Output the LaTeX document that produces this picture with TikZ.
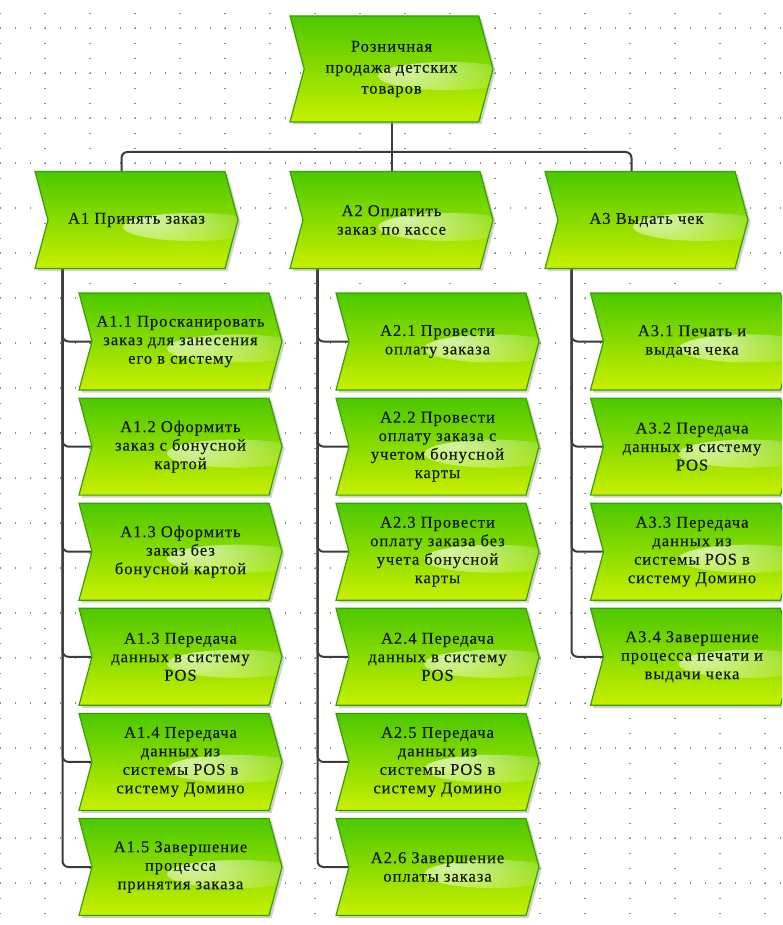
\documentclass[tikz,border=0pt]{standalone}
\usepackage{fontspec}
\setmainfont{Liberation Serif}[LetterSpace=6, FakeBold=0.35]
\usetikzlibrary{shapes.symbols,shadows,fadings,backgrounds}

\definecolor{lineGray}{HTML}{3C3C3C}
\definecolor{gTop}{HTML}{4CC800}
\definecolor{gBot}{HTML}{C8F000}
\definecolor{gEdge}{HTML}{38A000}
\definecolor{dotGray}{HTML}{8C8C8C}
\definecolor{txt}{HTML}{101A00}

\tikzfading[name=glowfade, inner color=transparent!35, outer color=transparent!100]

\tikzset{
  func/.style={signal, signal to=east, signal from=west, signal pointer angle=150,
    top color=gTop, bottom color=gBot, draw=gEdge, line width=1.2pt,
    drop shadow={shadow xshift=2.5pt, shadow yshift=-2.5pt, opacity=.35},
    inner sep=0pt, align=center, text=txt, font=\fontsize{16.5}{18.5}\selectfont,
    minimum width=203pt, minimum height=97pt,
    path picture={\fill[white, path fading=glowfade]
      ([xshift=-45pt,yshift=-7pt]path picture bounding box.east) ellipse [x radius=70pt, y radius=14pt];}},
  link/.style={draw=lineGray, line width=2pt, rounded corners=6pt},
  griddots/.style={draw=dotGray, line width=1.3pt, dash pattern=on 1.3pt off 13.7pt},
}

\begin{document}
\begin{tikzpicture}[x=1pt, y=-1pt]
\useasboundingbox (0,0) rectangle (782,925);
\clip (0,0) rectangle (782,925);

% root function
\node[func, minimum height=106pt, font=\fontsize{16.5}{21}\selectfont] (top) at (391.5,69)
  {Розничная\\продажа детских\\товаров};

% first level
\node[func] (a1) at (136.5,220) {A1 Принять заказ};
\node[func] (a2) at (391.5,220) {A2 Оплатить\\заказ по кассе};
\node[func] (a3) at (646.5,220) {A3 Выдать чек};

% A1 subfunctions
\node[func] (a11) at (180.5,341.5) {A1.1 Просканировать\\заказ для занесения\\его в систему};
\node[func] (a12) at (180.5,446.6) {A1.2 Оформить\\заказ с бонусной\\картой};
\node[func] (a13) at (180.5,551.7) {A1.3 Оформить\\заказ без\\бонусной картой};
\node[func] (a14) at (180.5,656.8) {A1.3 Передача\\данных в систему\\POS};
\node[func] (a15) at (180.5,761.9) {A1.4 Передача\\данных из\\системы POS в\\систему Домино};
\node[func] (a16) at (180.5,867) {A1.5 Завершение\\процесса\\принятия заказа};

% A2 subfunctions
\node[func] (a21) at (437.5,341.5) {A2.1 Провести\\оплату заказа};
\node[func] (a22) at (437.5,446.6) {A2.2 Провести\\оплату заказа с\\учетом бонусной\\карты};
\node[func] (a23) at (437.5,551.7) {A2.3 Провести\\оплату заказа без\\учета бонусной\\карты};
\node[func] (a24) at (437.5,656.8) {A2.4 Передача\\данных в систему\\POS};
\node[func] (a25) at (437.5,761.9) {A2.5 Передача\\данных из\\системы POS в\\систему Домино};
\node[func] (a26) at (437.5,867) {A2.6 Завершение\\оплаты заказа};

% A3 subfunctions
\node[func] (a31) at (692,341.5) {A3.1 Печать и\\выдача чека};
\node[func] (a32) at (692,446.6) {A3.2 Передача\\данных в систему\\POS};
\node[func] (a33) at (692,551.7) {A3.3 Передача\\данных из\\системы POS в\\систему Домино};
\node[func] (a34) at (692,656.8) {A3.4 Завершение\\процесса печати и\\выдачи чека};

\begin{scope}[on background layer]
  \fill[white] (0,0) rectangle (782,925);
  % dotted layout grid
  \foreach \gx in {0,45,...,780} \draw[griddots] (\gx,-2) -- (\gx,930);
  \foreach \gy in {28,73,...,925} \draw[griddots] (0,\gy) -- (790,\gy);
  \coordinate (bus) at (0,152);
  % root to first level
  \draw[link] (top.south) -- (a2.north);
  \draw[link] ([xshift=-15pt]a1.north) |- (bus -| top.south) -| ([xshift=-15pt]a3.north);
  % first level to subfunctions
  \foreach \c in {a11,a12,a13,a14,a15,a16}
    \draw[link] ([xshift=-74pt]a1.south) |- (\c.west);
  \foreach \c in {a21,a22,a23,a24,a25,a26}
    \draw[link] ([xshift=-74pt]a2.south) |- (\c.west);
  \foreach \c in {a31,a32,a33,a34}
    \draw[link] ([xshift=-75pt]a3.south) |- (\c.west);
\end{scope}
\end{tikzpicture}
\end{document}
